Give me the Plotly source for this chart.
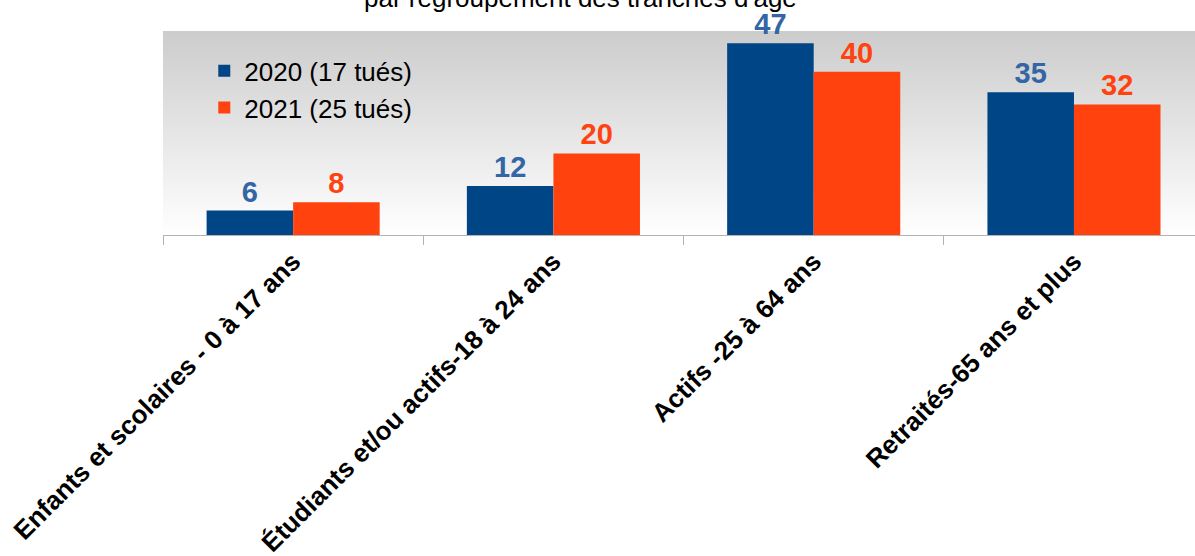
import plotly.graph_objects as go

categories = ["Enfants et scolaires - 0 à 17 ans",
              "Étudiants et/ou actifs-18 à 24 ans",
              "Actifs -25 à 64 ans",
              "Retraités-65 ans et plus"]
series_names = ["2020 (17 tués)", "2021 (25 tués)"]
values_2020 = [6, 12, 47, 35]
values_2021 = [8, 20, 40, 32]
title_text = "par regroupement des tranches d'âge"

FONT = "Liberation Sans, Arial, sans-serif"
BLUE = "#004586"
ORANGE = "#ff420e"
BLUE_LABEL = "#3465a4"

fig = go.Figure()
fig.add_trace(go.Bar(
    x=categories, y=values_2020, name=series_names[0],
    marker=dict(color=BLUE, line=dict(width=0)),
    text=values_2020, textposition="outside", cliponaxis=False,
    textfont=dict(family=FONT, size=29, color=BLUE_LABEL, weight="bold"),
))
fig.add_trace(go.Bar(
    x=categories, y=values_2021, name=series_names[1],
    marker=dict(color=ORANGE, line=dict(width=0)),
    text=values_2021, textposition="outside", cliponaxis=False,
    textfont=dict(family=FONT, size=29, color=ORANGE, weight="bold"),
))

# vertical gradient background of the plot area (grey at top to white at bottom)
shapes = []
n = 102
for i in range(n):
    t = i / (n - 1)
    c = int(round(0xcc + (0xff - 0xcc) * (1 - t)))
    shapes.append(dict(type="rect", xref="paper", yref="paper",
                       x0=0, x1=1, y0=i / n, y1=min(1.0, (i + 1.6) / n),
                       fillcolor=f"rgb({c},{c},{c})", line=dict(width=0),
                       layer="below"))

fig.update_layout(
    width=1195, height=556,
    margin=dict(l=163, r=0, t=31, b=321, pad=0),
    paper_bgcolor="white", plot_bgcolor="white",
    barmode="group", bargap=0.335, bargroupgap=0,
    font=dict(family=FONT, color="black"),
    shapes=shapes,
    showlegend=True,
    legend=dict(x=0.04, y=0.92, xanchor="left", yanchor="top",
                bgcolor="rgba(0,0,0,0)", font=dict(size=26, family=FONT),
                tracegroupgap=0),
    xaxis=dict(range=[-0.5, 3.465], showline=True, linecolor="#b3b3b3",
               linewidth=1, ticks="outside", tickson="boundaries",
               ticklen=9, tickcolor="#b3b3b3", tickangle=-45,
               tickfont=dict(size=26, family=FONT, color="black", weight="bold"),
               showgrid=False, zeroline=False, automargin=False),
    yaxis=dict(range=[0, 50], visible=False, showgrid=False, zeroline=False),
    annotations=[dict(text=title_text, xref="paper", yref="paper",
                      x=0.405, y=1.16, xanchor="center", yanchor="middle",
                      showarrow=False, font=dict(size=26, family=FONT, color="black"))],
)

fig.write_html("out.html", config={"displayModeBar": False},
               post_script="document.body.style.margin='0';")
